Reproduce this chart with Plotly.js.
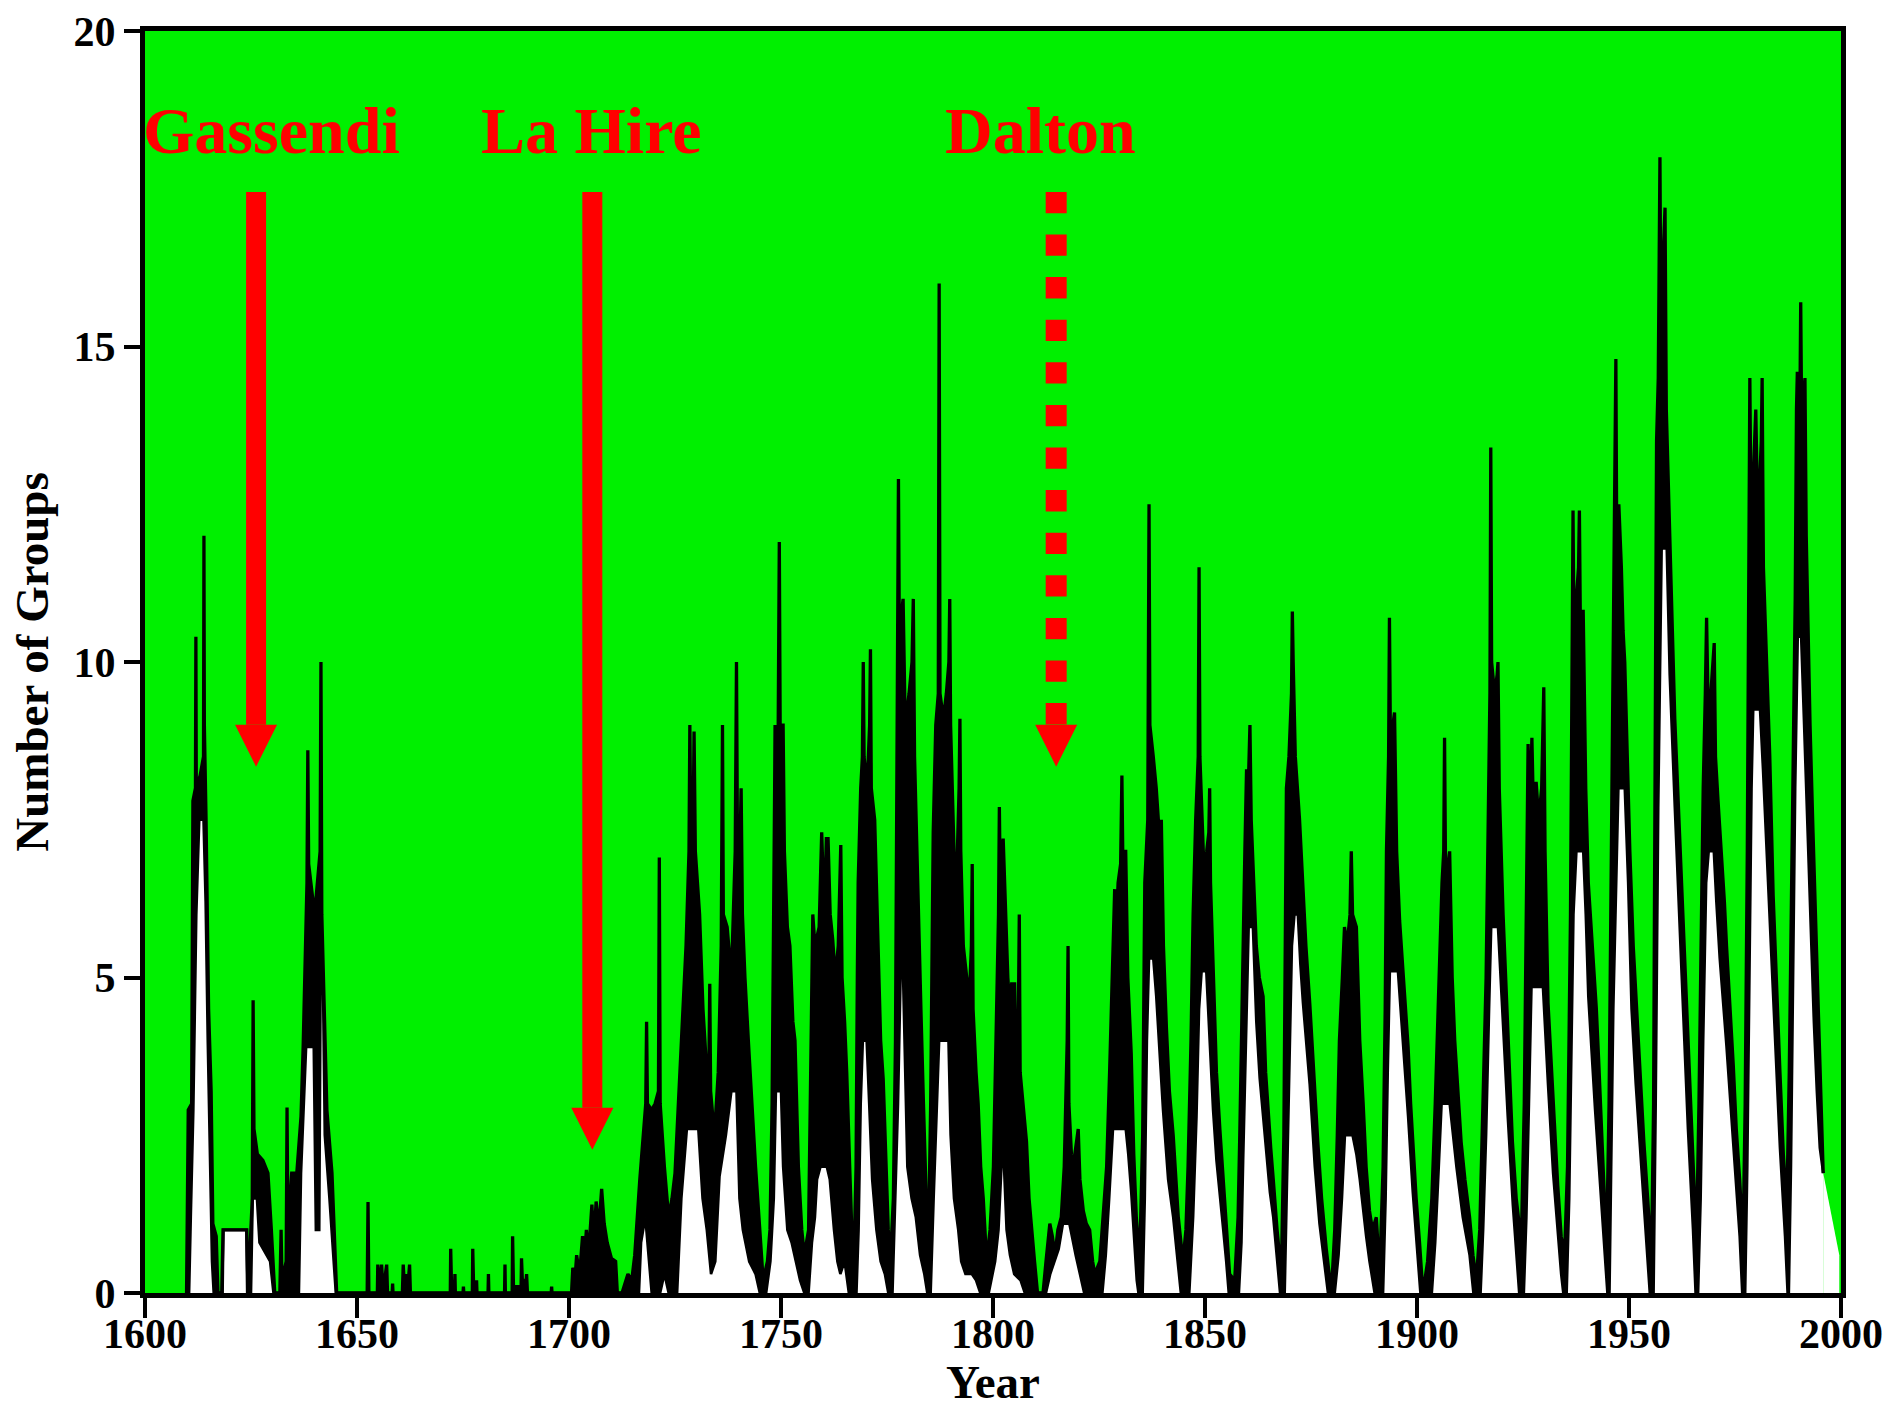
<!DOCTYPE html>
<html>
<head>
<meta charset="utf-8">
<script src="https://cdn.plot.ly/plotly-3.0.1.min.js"></script>
<style>
html,body{margin:0;padding:0;background:#ffffff;}
#chart{width:1897px;height:1408px;}
</style>
</head>
<body>
<div id="chart"></div>
<script>
// ---- axis ticks ----
const xTickYears = [1600, 1650, 1700, 1750, 1800, 1850, 1900, 1950, 2000];
const yTickValues = [0, 5, 10, 15, 20];

// ---- group sunspot number, upper edge of the monthly trace [year, groups] ----
const monthlyHigh = [
  [1609.8,0],[1610.2,2.9],[1611.0,3.0],[1611.3,7.8],[1611.9,8.0],[1612.0,10.4],[1612.1,8.0],[1613.0,8.2],[1613.8,8.5],[1613.9,12.0],[1614.0,9.0],[1614.4,7.5],[1615.0,4.5],[1615.6,3.2],[1616.0,1.1],[1616.8,0.9],[1617.2,0],[1618.1,0],
  [1618.4,1.0],[1624.0,1.0],[1624.3,0],
  [1625.3,1.5],[1625.5,4.64],[1625.7,2.6],[1626.5,2.2],[1627.8,2.1],[1629.0,1.9],[1629.8,1.0],[1630.6,0],
  [1631.8,0],[1632.1,1.0],[1632.3,0.2],[1633.3,0.5],[1633.5,2.94],[1633.7,1.0],[1634.6,1.9],[1635.8,1.9],[1636.8,2.8],[1637.3,3.9],[1638.2,6.5],[1638.4,8.6],[1638.6,6.8],[1640.0,6.0],[1641.3,7.0],[1641.5,10.0],[1641.7,6.0],[1642.3,4.5],[1642.9,2.9],[1644.1,1.9],[1645.2,0],
  [1652.4,0],[1652.6,1.44],[1652.8,0],
  [1654.8,0],[1654.9,0.45],[1655.2,0.1],[1655.5,0.2],[1655.8,0.45],[1656.1,0.1],[1656.5,0.2],[1657.0,0.45],[1657.2,0],
  [1658.3,0],[1658.4,0.15],[1658.5,0],
  [1660.7,0],[1660.9,0.45],[1661.2,0.1],[1661.5,0.3],[1662.0,0.1],[1662.4,0.45],[1662.6,0],
  [1672.0,0],[1672.1,0.7],[1672.3,0.1],[1673.0,0.1],[1673.1,0.3],[1673.2,0],[1675.0,0],[1675.1,0.1],[1675.2,0],
  [1677.2,0],[1677.3,0.7],[1677.5,0.1],[1678.1,0.1],[1678.2,0.2],[1678.3,0],
  [1680.9,0],[1681.0,0.3],[1681.1,0],
  [1684.8,0],[1684.9,0.45],[1685.0,0],
  [1686.6,0],[1686.7,0.9],[1686.9,0.1],[1688.7,0.1],[1688.8,0.55],[1689.0,0.2],[1689.9,0.2],[1690.0,0.3],[1690.2,0],
  [1695.8,0],[1695.9,0.1],[1696.0,0],
  [1700.6,0],[1700.9,0.4],[1701.5,0.3],[1701.8,0.6],[1702.5,0.3],[1703.2,0.9],[1703.6,0.5],[1704.1,1.0],[1704.6,0.6],[1705.4,1.4],[1705.8,0.8],[1706.4,1.45],[1707.0,1.0],[1707.7,1.65],[1708.3,1.1],[1709.0,0.8],[1710.0,0.55],[1711.0,0.5],[1711.4,0],[1712.5,0],
  [1713.9,0.3],[1714.8,0.2],[1715.5,0.6],[1716.7,1.8],[1717.5,2.5],[1718.1,3.0],[1718.3,4.3],[1718.5,3.0],[1719.5,2.9],[1720.3,3.0],[1721.1,3.2],[1721.3,6.9],[1721.5,3.0],[1722.5,2.0],[1723.5,1.2],[1724.3,1.5],[1725.0,1.9],[1725.8,3.0],[1726.9,4.5],[1727.6,5.5],[1728.3,7.0],[1728.5,9.0],[1728.7,7.5],[1729.3,7.6],[1729.5,8.9],[1729.8,7.0],[1730.8,6.0],[1731.6,4.5],[1732.5,3.5],[1733.0,3.6],[1733.2,4.9],[1733.4,3.2],[1734.3,2.5],[1735.2,3.5],[1735.9,5.5],[1736.2,9.0],[1736.4,6.0],[1737.3,5.8],[1738.3,5.0],[1739.2,7.0],[1739.5,10.0],[1739.7,7.5],[1740.3,7.0],[1740.6,8.0],[1740.9,6.0],[1741.5,5.0],[1742.3,4.0],[1743.1,3.0],[1744.0,2.0],[1745.0,1.0],[1745.8,0.2],
  [1746.8,0.5],[1747.4,1.0],[1747.9,3.0],[1748.2,5.0],[1748.5,8.0],[1748.6,9.0],[1748.8,8.0],[1749.3,8.5],[1749.6,11.9],[1749.8,9.0],[1750.5,9.0],[1750.8,7.0],[1751.5,5.8],[1752.1,5.5],[1752.8,4.3],[1753.3,4.0],[1753.7,3.0],[1754.1,2.0],[1754.9,1.0],[1755.5,0.6],
  [1756.5,1.0],[1757.2,5.0],[1757.5,6.0],[1758.0,5.5],[1759.0,5.8],[1759.6,7.3],[1760.2,6.0],[1760.7,7.2],[1761.1,7.2],[1761.6,6.0],[1762.2,5.6],[1762.8,5.0],[1763.5,5.5],[1764.1,7.1],[1764.4,5.0],[1765.0,4.3],[1765.5,3.5],[1766.2,2.0],[1766.7,1.0],[1767.2,0.5],
  [1767.7,2.0],[1768.0,5.0],[1768.2,6.5],[1768.8,8.0],[1769.2,8.5],[1769.4,10.0],[1769.6,8.5],[1770.3,8.0],[1770.9,9.0],[1771.1,10.2],[1771.3,8.0],[1772.1,7.5],[1772.8,5.5],[1773.5,4.0],[1774.1,3.4],[1774.7,2.0],[1775.3,1.0],[1775.8,0.5],
  [1776.5,1.5],[1777.0,4.0],[1777.4,10.0],[1777.7,12.9],[1777.9,10.5],[1778.5,10.8],[1778.8,11.0],[1779.3,9.0],[1780.2,9.5],[1780.9,10.0],[1781.2,11.0],[1781.5,8.5],[1782.0,7.0],[1782.4,6.0],[1783.0,4.5],[1783.6,3.0],[1784.2,1.5],[1784.7,0.5],
  [1785.3,3.0],[1785.9,7.3],[1786.5,9.0],[1787.1,9.5],[1787.3,16.0],[1787.5,9.5],[1788.3,9.1],[1789.0,9.5],[1789.6,10.0],[1789.8,11.0],[1790.0,9.0],[1790.5,7.5],[1791.0,6.5],[1791.6,7.0],[1792.0,8.0],[1792.2,9.1],[1792.4,7.0],[1793.0,5.5],[1793.8,5.0],[1794.5,4.8],[1794.9,5.5],[1795.1,6.8],[1795.3,4.5],[1796.0,3.5],[1796.5,3.0],[1797.1,2.0],[1797.7,1.5],[1798.5,0.5],
  [1799.3,1.0],[1800.1,2.0],[1800.8,4.5],[1801.3,6.0],[1801.5,7.7],[1801.7,6.5],[1802.4,7.2],[1802.8,6.5],[1803.5,5.0],[1804.0,4.5],[1804.4,4.9],[1805.1,4.9],[1805.5,3.5],[1806.0,4.5],[1806.2,6.0],[1806.4,3.5],[1807.0,3.0],[1807.9,2.4],[1808.5,1.5],[1809.1,1.0],[1809.8,0.5],[1810.5,0],
  [1811.8,0],[1812.5,0.5],[1813.4,1.1],[1814.0,0.9],[1814.6,0.6],[1815.3,1.0],[1816.1,1.2],[1816.8,2.0],[1817.5,4.0],[1817.7,5.5],[1817.9,3.0],[1818.5,2.2],[1818.9,2.0],[1819.5,2.3],[1820.1,2.6],[1820.5,1.8],[1821.3,1.3],[1822.0,1.1],[1822.8,1.0],[1823.5,0.5],[1824.0,0.3],
  [1825.2,0.5],[1826.0,1.2],[1826.8,2.0],[1827.5,3.5],[1828.2,5.0],[1828.5,6.0],[1828.7,6.4],[1828.9,5.5],[1829.5,6.5],[1830.1,6.8],[1830.4,8.2],[1830.6,7.0],[1831.3,7.0],[1831.8,5.0],[1832.6,3.8],[1833.2,2.2],[1833.8,1.2],[1834.6,0.5],
  [1835.3,2.5],[1835.8,6.5],[1836.5,7.5],[1836.8,12.5],[1837.0,9.0],[1837.8,8.5],[1838.5,8.0],[1839.0,7.5],[1839.5,7.0],[1839.7,7.5],[1840.2,5.5],[1840.9,4.2],[1841.6,3.2],[1842.5,2.5],[1843.1,1.8],[1843.7,1.2],[1844.8,0.5],
  [1845.5,1.0],[1846.0,2.0],[1846.7,4.0],[1847.2,6.0],[1847.8,7.5],[1848.4,8.5],[1848.6,11.5],[1848.8,8.5],[1849.3,7.5],[1849.7,6.8],[1850.4,7.0],[1850.9,7.3],[1851.1,8.0],[1851.3,6.5],[1852.0,5.0],[1852.7,3.5],[1853.5,2.6],[1854.3,1.8],[1855.0,1.1],[1855.8,0.3],[1857.0,0.2],
  [1857.8,1.2],[1858.2,2.5],[1858.8,5.0],[1859.4,7.0],[1859.8,8.3],[1860.2,8.0],[1860.6,9.0],[1860.9,7.5],[1861.5,6.5],[1862.1,5.5],[1862.8,5.0],[1863.7,4.7],[1864.3,3.5],[1864.9,2.8],[1865.5,2.3],[1866.1,1.8],[1867.0,1.0],[1868.0,0.3],
  [1868.6,2.5],[1869.2,8.0],[1869.8,8.5],[1870.4,9.5],[1870.6,10.8],[1870.8,10.0],[1871.3,8.5],[1872.3,7.5],[1873.0,6.5],[1873.8,5.5],[1874.7,4.6],[1875.5,3.6],[1876.6,2.4],[1877.5,1.5],[1878.6,0.7],[1879.8,0],
  [1880.6,1.0],[1881.2,2.5],[1881.7,4.0],[1882.4,5.0],[1882.9,5.8],[1883.5,5.5],[1884.2,6.0],[1884.5,7.0],[1884.8,6.0],[1885.7,5.8],[1886.5,4.0],[1887.3,3.0],[1888.0,2.0],[1888.8,1.3],[1889.5,1.0],[1890.4,1.2],[1891.2,0.3],
  [1892.0,2.0],[1892.5,4.5],[1892.8,7.0],[1893.3,8.5],[1893.5,10.7],[1893.7,9.0],[1894.3,9.0],[1894.7,9.2],[1895.2,7.0],[1895.9,5.9],[1896.8,5.0],[1897.4,4.4],[1897.9,3.9],[1898.5,3.0],[1899.0,2.4],[1899.8,1.5],[1900.6,0.8],[1901.4,0],
  [1902.5,0.5],[1903.5,1.5],[1904.3,3.0],[1904.8,4.2],[1905.3,5.5],[1905.9,6.5],[1906.3,7.0],[1906.5,8.8],[1906.7,7.0],[1907.2,6.5],[1907.7,7.0],[1908.3,5.0],[1908.9,4.0],[1909.6,3.2],[1910.4,2.4],[1911.3,1.8],[1912.4,1.2],[1913.2,0.6],[1914.0,0.2],
  [1914.8,1.0],[1915.5,3.0],[1916.3,5.0],[1916.9,8.0],[1917.2,9.5],[1917.4,13.4],[1917.6,10.0],[1918.3,9.5],[1918.9,9.8],[1919.1,10.0],[1919.4,8.0],[1920.3,6.0],[1921.0,4.8],[1921.8,3.5],[1922.5,2.4],[1923.4,1.5],[1924.6,0.8],
  [1925.3,3.0],[1925.8,6.0],[1926.2,8.7],[1926.6,7.5],[1927.1,8.8],[1927.5,7.5],[1928.1,8.1],[1928.7,7.5],[1929.4,8.0],[1929.9,9.6],[1930.2,7.0],[1930.9,4.6],[1931.6,3.6],[1932.4,2.7],[1933.2,1.7],[1934.0,0.9],[1934.8,0.6],
  [1935.5,2.0],[1936.2,6.0],[1936.6,10.0],[1936.8,12.4],[1937.0,10.5],[1937.6,11.0],[1938.1,11.5],[1938.3,12.4],[1938.5,10.8],[1939.2,10.8],[1939.8,8.0],[1940.4,6.5],[1941.3,5.5],[1942.3,4.5],[1942.9,3.6],[1943.5,2.7],[1944.1,1.6],[1944.7,0.7],
  [1945.3,3.0],[1945.9,8.0],[1946.4,11.0],[1946.9,14.8],[1947.1,12.0],[1947.6,12.5],[1948.2,11.5],[1948.6,10.5],[1949.0,10.0],[1949.6,8.5],[1950.2,7.0],[1951.0,5.5],[1951.8,4.5],[1952.6,3.5],[1953.5,2.4],[1954.5,1.4],[1955.3,0.5],
  [1955.8,3.0],[1956.2,8.0],[1956.5,13.5],[1956.9,14.5],[1957.3,18.0],[1957.5,15.5],[1958.1,16.5],[1958.5,17.2],[1958.8,14.0],[1959.2,13.0],[1960.0,11.0],[1960.8,9.1],[1961.6,7.8],[1962.4,6.5],[1963.2,5.2],[1963.9,4.1],[1964.6,3.0],[1965.1,2.0],[1965.9,0.8],
  [1966.5,3.0],[1967.0,5.5],[1967.5,8.0],[1968.0,9.5],[1968.3,10.7],[1968.6,9.5],[1969.3,9.5],[1970.1,10.3],[1970.4,8.5],[1971.0,7.8],[1971.8,7.0],[1972.5,6.2],[1973.0,5.5],[1973.8,4.6],[1974.6,3.6],[1975.3,2.6],[1976.1,1.8],[1976.9,0.8],
  [1977.4,3.0],[1977.9,7.0],[1978.3,11.0],[1978.5,14.5],[1978.8,12.0],[1979.4,13.0],[1979.9,14.0],[1980.3,12.5],[1980.9,13.0],[1981.2,13.5],[1981.4,14.5],[1981.7,11.5],[1982.4,10.0],[1983.2,8.5],[1984.0,6.3],[1984.8,4.8],[1985.6,3.5],[1986.4,2.2],[1987.2,1.3],
  [1987.8,3.5],[1988.3,6.5],[1988.7,8.0],[1989.2,11.0],[1989.5,14.0],[1989.7,14.6],[1990.0,13.5],[1990.3,14.0],[1990.5,15.7],[1990.7,14.0],[1991.1,14.2],[1991.5,14.5],[1991.8,12.0],[1992.2,10.5],[1992.7,9.0],[1993.4,7.3],[1994.2,5.5],[1994.9,3.8],[1995.5,2.8],[1995.8,1.9]
];

// ---- lower edge of the monthly trace (white area below it) [year, groups] ----
const monthlyLow = [
  [1609.8,0],[1610.4,0],[1610.8,1.2],[1611.4,2.9],[1612.1,6.0],[1612.8,7.5],[1613.8,7.5],[1614.3,6.2],[1614.8,4.0],[1615.3,2.0],[1615.8,0.5],[1616.2,0],
  [1618.3,0],[1618.5,1.0],[1623.9,1.0],[1624.1,0],
  [1625.0,0],[1625.4,1.5],[1626.4,1.5],[1627.0,0.8],[1629.5,0.5],[1630.3,0],
  [1636.3,0],[1636.8,1.9],[1637.4,3.0],[1638.0,3.9],[1639.8,3.9],[1640.3,1.0],[1641.1,1.0],[1641.4,4.8],[1642.0,4.8],[1642.4,2.5],[1643.5,1.5],[1644.4,0.6],[1645.0,0],
  [1716.5,0],[1717.0,0.8],[1718.0,1.2],[1718.8,0.5],[1719.5,0],[1721.5,0],[1722.5,0.3],[1723.5,0],[1725.5,0],[1726.5,1.5],[1727.8,2.6],[1730.5,2.6],[1731.5,1.5],[1732.5,1.0],[1733.5,0.3],[1734.5,0.5],[1735.5,1.85],[1737.0,2.5],[1738.3,3.2],[1739.5,3.2],[1740.2,1.5],[1741.0,1.0],[1742.5,0.5],[1744.0,0.3],[1745.0,0],
  [1746.5,0],[1747.5,0.5],[1748.3,1.5],[1748.8,3.2],[1750.0,3.2],[1750.5,2.0],[1751.5,1.0],[1752.5,0.8],[1753.5,0.5],[1754.5,0.2],[1755.5,0],
  [1756.5,0],[1757.3,0.8],[1758.0,1.2],[1758.5,1.8],[1759.3,2.0],[1760.8,2.0],[1761.5,1.8],[1762.5,1.0],[1763.3,0.5],[1764.0,0.3],[1765.0,0.5],[1766.0,0],
  [1767.8,0],[1768.3,1.0],[1768.8,3.0],[1769.3,4.0],[1770.2,4.0],[1770.8,3.0],[1771.5,1.8],[1772.5,1.0],[1773.5,0.5],[1774.5,0.3],[1775.3,0],
  [1776.3,0],[1777.0,1.5],[1777.6,3.0],[1778.2,5.0],[1778.8,5.0],[1779.3,3.5],[1779.8,2.0],[1780.8,1.5],[1781.8,1.2],[1782.8,0.6],[1783.8,0.3],[1784.5,0],
  [1785.3,0],[1786.0,1.5],[1786.8,3.0],[1787.3,4.0],[1789.5,4.0],[1790.0,2.5],[1790.8,1.5],[1791.8,1.0],[1792.5,0.5],[1793.5,0.3],[1795.0,0.3],[1796.0,0.2],[1797.0,0],
  [1799.0,0],[1800.5,0.5],[1801.3,1.0],[1802.0,2.0],[1802.6,2.0],[1803.2,1.0],[1804.0,0.6],[1805.0,0.3],[1806.5,0.2],[1807.5,0],
  [1812.5,0],[1813.5,0.3],[1814.5,0.5],[1815.5,0.7],[1816.5,1.1],[1818.0,1.1],[1819.5,0.6],[1820.5,0.3],[1821.5,0],
  [1825.8,0],[1826.6,0.6],[1827.4,1.5],[1828.3,2.6],[1831.3,2.6],[1831.9,2.2],[1832.6,1.6],[1833.3,0.8],[1833.9,0.2],[1834.3,0],
  [1835.3,0],[1835.8,1.5],[1836.3,4.0],[1836.8,5.3],[1837.8,5.3],[1838.5,4.7],[1839.3,3.8],[1840.1,2.9],[1841.3,1.8],[1842.5,1.2],[1843.7,0.4],[1844.3,0],
  [1846.3,0],[1847.2,1.2],[1848.0,2.8],[1848.6,4.5],[1849.2,5.1],[1850.3,5.1],[1851.1,4.0],[1851.9,2.9],[1852.7,2.1],[1853.5,1.6],[1854.3,1.0],[1855.0,0.5],[1855.6,0],
  [1858.0,0],[1858.6,0.8],[1859.0,2.1],[1859.8,4.5],[1860.3,5.8],[1861.3,5.8],[1862.1,4.3],[1862.9,3.4],[1863.7,2.8],[1864.5,2.1],[1865.3,1.6],[1866.1,1.2],[1867.2,0.4],[1867.7,0],
  [1868.8,0],[1869.3,1.5],[1869.8,3.5],[1870.5,5.5],[1871.1,6.0],[1871.9,6.0],[1872.5,5.2],[1873.1,4.6],[1874.7,3.3],[1875.9,2.0],[1877.0,1.1],[1878.2,0.4],[1879.0,0],
  [1880.6,0],[1881.5,0.6],[1882.3,1.5],[1883.0,2.5],[1884.8,2.5],[1885.7,2.2],[1886.5,1.8],[1887.3,1.3],[1888.0,0.9],[1888.8,0.5],[1889.5,0.2],[1890.0,0],
  [1892.0,0],[1892.6,1.5],[1893.1,3.5],[1893.6,5.1],[1895.5,5.1],[1896.7,4.0],[1897.9,2.8],[1899.0,1.6],[1900.2,0.6],[1900.8,0],
  [1903.5,0],[1904.3,0.8],[1905.0,1.8],[1905.8,3.0],[1907.7,3.0],[1908.5,2.5],[1909.3,2.0],[1910.8,1.2],[1912.4,0.6],[1913.3,0],
  [1915.0,0],[1915.6,1.0],[1916.3,2.5],[1917.0,4.5],[1917.5,5.8],[1919.1,5.8],[1919.7,5.0],[1920.3,4.3],[1921.4,2.8],[1922.6,1.4],[1923.6,0.5],[1924.1,0],
  [1925.2,0],[1925.8,1.2],[1926.4,3.0],[1927.0,4.85],[1929.7,4.85],[1930.3,4.0],[1930.9,3.3],[1932.1,1.9],[1933.2,0.9],[1934.0,0.3],[1934.5,0],
  [1935.3,0],[1935.9,1.5],[1936.4,4.0],[1936.9,6.0],[1937.6,7.0],[1939.2,7.0],[1939.8,6.0],[1940.4,4.7],[1942.0,2.9],[1943.5,1.4],[1944.5,0.3],[1944.9,0],
  [1945.4,0],[1946.3,4.5],[1947.5,8.0],[1949.0,8.0],[1949.8,6.5],[1950.6,4.5],[1951.6,3.3],[1952.6,2.3],[1954.1,0.8],[1954.9,0],
  [1955.8,0],[1956.3,3.0],[1956.9,7.7],[1957.7,11.8],[1958.9,11.8],[1959.6,9.8],[1960.8,7.7],[1962.4,5.0],[1963.9,2.6],[1965.1,1.0],[1965.7,0],
  [1966.3,0],[1966.9,1.5],[1967.5,4.0],[1968.2,6.5],[1968.8,7.0],[1970.0,7.0],[1970.6,6.2],[1971.4,5.3],[1973.0,3.9],[1974.6,2.3],[1976.1,0.9],[1976.7,0],
  [1977.4,0],[1977.9,2.0],[1978.4,5.5],[1978.9,8.0],[1979.3,9.25],[1980.9,9.25],[1981.6,8.3],[1982.4,7.1],[1984.0,4.7],[1985.6,2.3],[1986.8,0.9],[1987.4,0],
  [1987.7,0],[1988.2,2.0],[1988.7,5.0],[1989.2,8.0],[1989.8,10.4],[1990.6,10.4],[1991.3,9.0],[1992.0,7.5],[1992.8,5.8],[1993.6,4.3],[1994.3,3.2],[1995.0,2.3],[1995.8,1.9]
];

// white wedge closing the fill after the last value
const tailFill = [[1995.8,1.9],[1999.6,0.6]];

// ---- labelled minima ----
const minimaNames = ['Gassendi', 'La Hire', 'Dalton'];
const minimaLabelYears = [1629.8, 1705.4, 1811.3];
const minimaArrowYears = [1626.2, 1705.5, 1814.9];
const minimaArrowTips = [8.34, 2.27, 8.34];
const minimaArrowDashed = [false, false, true];

const GREEN = '#00F000';
const RED = '#FF0000';
const SERIF = '"Liberation Serif", "Times New Roman", serif';

const col = (arr, i) => arr.map(p => p[i]);

const traces = [
  {
    x: col(monthlyLow, 0), y: col(monthlyLow, 1),
    type: 'scatter', mode: 'lines',
    line: {color: '#000000', width: 2.6},
    fill: 'tozeroy', fillcolor: '#FFFFFF',
    hoverinfo: 'skip'
  },
  {
    x: col(monthlyHigh, 0), y: col(monthlyHigh, 1),
    type: 'scatter', mode: 'lines',
    line: {color: '#000000', width: 3.3},
    fill: 'tonexty', fillcolor: '#000000',
    hoverinfo: 'skip'
  },
  {
    x: col(tailFill, 0), y: col(tailFill, 1),
    type: 'scatter', mode: 'lines',
    line: {color: 'rgba(0,0,0,0)', width: 0},
    fill: 'tozeroy', fillcolor: '#FFFFFF',
    hoverinfo: 'skip'
  }
];

// arrow geometry (px converted to data units: 1696 px = 400 yr, 1262 px = 20 groups)
const yrPerPx = 400 / 1696, grpPerPx = 20 / 1262;
const arrowTop = 17.45;
const shaftHalf = 10 * yrPerPx, headHalf = 21 * yrPerPx, headLen = 42 * grpPerPx;

const shapes = [];
minimaArrowYears.forEach((ax, i) => {
  const tip = minimaArrowTips[i];
  const base = tip + headLen;
  if (minimaArrowDashed[i]) {
    shapes.push({type: 'line', xref: 'x', yref: 'y', x0: ax, x1: ax, y0: arrowTop, y1: base,
      line: {color: RED, width: 21, dash: '21.3px,21.3px'}, layer: 'above'});
  } else {
    shapes.push({type: 'rect', xref: 'x', yref: 'y', x0: ax - shaftHalf, x1: ax + shaftHalf, y0: base, y1: arrowTop,
      fillcolor: RED, line: {width: 0}, layer: 'above'});
  }
  shapes.push({type: 'path', xref: 'x', yref: 'y',
    path: `M ${ax - headHalf},${base} L ${ax + headHalf},${base} L ${ax},${tip} Z`,
    fillcolor: RED, line: {width: 0}, layer: 'above'});
});

const annotations = minimaNames.map((name, i) => ({
  x: minimaLabelYears[i], y: 18.42, xref: 'x', yref: 'y',
  text: name, showarrow: false, xanchor: 'center', yanchor: 'middle',
  font: {family: SERIF, size: 66, color: RED, weight: 700}
}));

const tickFont = {family: SERIF, size: 42, color: '#000000', weight: 700};
const titleFont = {family: SERIF, size: 47, color: '#000000', weight: 700};

const layout = {
  width: 1897, height: 1408,
  margin: {l: 145, r: 56, t: 31, b: 115, pad: 0},
  paper_bgcolor: '#FFFFFF',
  plot_bgcolor: GREEN,
  showlegend: false,
  xaxis: {
    range: [1600, 2000], tickmode: 'array', tickvals: xTickYears, ticktext: xTickYears.map(String),
    ticks: 'outside', ticklen: 20, tickwidth: 4, tickcolor: '#000000',
    ticklabelstandoff: -20,
    showline: true, linewidth: 5, linecolor: '#000000', mirror: true,
    showgrid: false, zeroline: false, automargin: false,
    tickfont: tickFont,
    title: {text: 'Year', font: titleFont, standoff: 27}
  },
  yaxis: {
    range: [0, 20], tickmode: 'array', tickvals: yTickValues, ticktext: yTickValues.map(String),
    ticks: 'outside', ticklen: 16, tickwidth: 4, tickcolor: '#000000',
    showline: true, linewidth: 5, linecolor: '#000000', mirror: true,
    showgrid: false, zeroline: false, automargin: false,
    tickfont: tickFont,
    title: {text: 'Number of Groups', font: titleFont, standoff: 12}
  },
  shapes: shapes,
  annotations: annotations
};

Plotly.newPlot('chart', traces, layout, {staticPlot: true, displayModeBar: false});
</script>
</body>
</html>
